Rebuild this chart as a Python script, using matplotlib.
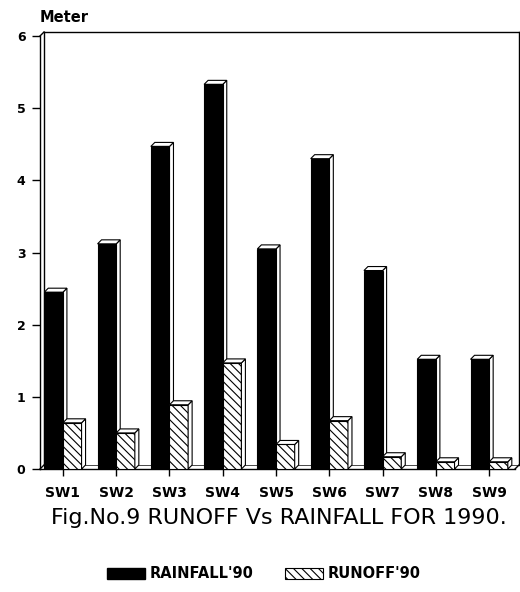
import matplotlib
matplotlib.use("Agg")
import matplotlib.pyplot as plt
from matplotlib.patches import Patch, Polygon

# data
stations = ["SW1", "SW2", "SW3", "SW4", "SW5", "SW6", "SW7", "SW8", "SW9"]
rainfall = [2.45, 3.12, 4.47, 5.33, 3.05, 4.30, 2.75, 1.52, 1.52]
runoff = [0.64, 0.50, 0.89, 1.47, 0.34, 0.67, 0.17, 0.10, 0.10]
y_ticks = [0, 1, 2, 3, 4, 5, 6]

plt.rcParams["hatch.linewidth"] = 0.8
HATCH = "\\\\\\\\"


def add_faces(ax, x0, x1, h, dx, dy):
    # top and side faces give the bar a little depth
    top = Polygon([(x0, h), (x1, h), (x1 + dx, h + dy), (x0 + dx, h + dy)],
                  closed=True, facecolor="white", edgecolor="black", lw=0.8, zorder=2)
    side = Polygon([(x1, 0), (x1 + dx, dy), (x1 + dx, h + dy), (x1, h)],
                   closed=True, facecolor="white", edgecolor="black", lw=0.8, zorder=2)
    ax.add_patch(side)
    ax.add_patch(top)


def main():
    fig = plt.figure(figsize=(5.2, 5.92), dpi=100)
    fig.patch.set_facecolor("white")
    ax = fig.add_axes([40 / 520, 123 / 592, 479 / 520, 433 / 592])
    ax.set_facecolor("white")

    xl, xr = -0.43, 8.56
    ax.set_xlim(xl, xr)
    ax.set_ylim(0, 6)

    # depth of 4 px converted to data units
    bb = ax.get_window_extent()
    dx = 4 * (xr - xl) / bb.width
    dy = 4 * 6 / bb.height

    for s in ax.spines.values():
        s.set_visible(False)

    # 3d frame
    kw = dict(color="black", lw=1.0, clip_on=False, zorder=1)
    ax.plot([xl, xl], [0, 6], **kw)
    ax.plot([xl, xl + dx], [6, 6 + dy], **kw)
    ax.plot([xl + dx, xl + dx], [dy, 6 + dy], **kw)
    ax.plot([xl + dx, xr], [6 + dy, 6 + dy], **kw)
    ax.plot([xr, xr], [6 + dy, dy], **kw)
    ax.plot([xl, xr - dx], [0, 0], **kw)
    ax.plot([xr - dx, xr], [0, dy], **kw)
    ax.plot([xl, xl + dx], [0, dy], **kw)
    ax.plot([xl + dx, xr], [dy, dy], color="black", lw=0.5, clip_on=False, zorder=1)

    w = 0.35
    x = list(range(len(stations)))
    for i in x:
        add_faces(ax, i - w, i, rainfall[i], dx, dy)
    ax.bar(x, rainfall, width=-w, align="edge", color="black", edgecolor="black",
           lw=0.8, zorder=3)
    ax.bar(x, runoff, width=w, align="edge", color="white", edgecolor="black",
           hatch=HATCH, lw=0.8, zorder=4)
    for i in x:
        top = Polygon([(i, runoff[i]), (i + w, runoff[i]), (i + w + dx, runoff[i] + dy),
                       (i + dx, runoff[i] + dy)], closed=True, facecolor="white",
                      edgecolor="black", lw=0.8, zorder=5)
        side = Polygon([(i + w, 0), (i + w + dx, dy), (i + w + dx, runoff[i] + dy),
                        (i + w, runoff[i])], closed=True, facecolor="white",
                       edgecolor="black", lw=0.8, zorder=5)
        ax.add_patch(side)
        ax.add_patch(top)

    ax.set_xticks(x)
    ax.set_xticklabels(stations, fontsize=10, fontweight="bold")
    ax.set_yticks(y_ticks)
    ax.set_yticklabels([str(v) for v in y_ticks], fontsize=9, fontweight="bold")
    ax.tick_params(axis="x", direction="out", length=5, width=1, pad=7)
    ax.tick_params(axis="y", direction="out", length=5.5, width=1, pad=5)

    fig.text(40 / 520, 1 - 17 / 592, "Meter", ha="left", va="center",
             fontsize=10.5, fontweight="bold")
    fig.text(279 / 520, 1 - 518 / 592, "Fig.No.9 RUNOFF Vs RAINFALL FOR 1990.",
             ha="center", va="center", fontsize=16)

    handles = [Patch(facecolor="black", edgecolor="black"),
               Patch(facecolor="white", edgecolor="black", hatch=HATCH, lw=0.8)]
    fig.legend(handles, ["RAINFALL'90", "RUNOFF'90"], loc="center",
               bbox_to_anchor=(264 / 520, 1 - 574 / 592), ncol=2, frameon=False,
               prop={"weight": "bold", "size": 10.5}, handlelength=2.6,
               handleheight=0.85, handletextpad=0.3, columnspacing=2.2)

    fig.savefig("out.png", dpi=100, facecolor="white")
    plt.close(fig)


if __name__ == "__main__":
    main()
